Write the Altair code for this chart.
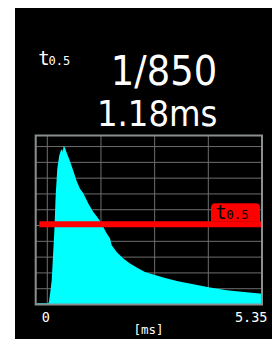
import altair as alt
import pandas as pd

# waveform (time in ms, relative level)
t_ms = [-0.289, -0.244, 0.025, 0.042, 0.080, 0.110, 0.150, 0.174, 0.209, 0.249,
        0.299, 0.341, 0.371, 0.386, 0.404, 0.436, 0.483, 0.566, 0.648, 0.733,
        0.815, 0.897, 1.022, 1.146, 1.271, 1.356, 1.413, 1.463, 1.563, 1.605,
        1.729, 1.894, 2.061, 2.228, 2.435, 2.642, 2.891, 3.225, 3.638, 4.055,
        4.471, 4.969, 5.350]
level = [0.0, 0.08, 0.08, 0.18, 0.91, 1.54, 3.44, 4.58, 6.92, 8.61,
         9.45, 9.77, 9.83, 9.64, 10.02, 9.96, 9.61, 9.07, 8.47, 7.80,
         7.33, 7.04, 6.39, 5.86, 5.44, 5.13, 4.83, 4.58, 4.18, 3.75,
         3.33, 2.91, 2.59, 2.34, 2.06, 1.90, 1.71, 1.49, 1.28, 1.08,
         0.91, 0.78, 0.68]

grid_ms = [0, 1.3375, 2.675, 4.0125]
grid_level = [1, 2, 3, 4, 5, 6, 7, 8, 9, 10]
threshold_level = [5.08]
threshold_from = [-0.2]
threshold_to = [5.35]
tick_ms_left = [0]
tick_text_left = ["0"]
tick_ms_right = [5.35]
tick_text_right = ["5.35"]
header_rate = ["1/850"]
header_time = ["1.18ms"]
label_t = ["t"]
label_sub = ["0.5"]
unit_text = ["[ms]"]

W, H = 226.3, 169
GRID = "#6e6e6e"
FRAME = "#8a9090"
RED = "#ff0000"
CYAN = "#00ffff"
MONO = "DejaVu Sans Mono"
NARROW = "DejaVu Sans Condensed, Roboto Condensed, DejaVu Sans, sans-serif"

xs = alt.Scale(domain=[-0.289, 5.35], nice=False, zero=False)
ys = alt.Scale(domain=[0, 10.7], nice=False, zero=False)

one = pd.DataFrame({"k": [0]})

bg = alt.Chart(one).mark_rect(color="black").encode(
    x=alt.value(-20.7), x2=alt.value(245), y=alt.value(-130), y2=alt.value(215))

gx = alt.Chart(pd.DataFrame({"x": grid_ms})).mark_rule(color=GRID, strokeWidth=1).encode(
    x=alt.X("x:Q", scale=xs, axis=None))
gy = alt.Chart(pd.DataFrame({"y": grid_level})).mark_rule(color=GRID, strokeWidth=1).encode(
    y=alt.Y("y:Q", scale=ys, axis=None))

area = alt.Chart(pd.DataFrame({"t": t_ms, "v": level})).mark_area(
    color=CYAN, opacity=1).encode(
    x=alt.X("t:Q", scale=xs, axis=None),
    y=alt.Y("v:Q", scale=ys, axis=None))

thr = alt.Chart(pd.DataFrame({"x0": threshold_from, "x1": threshold_to, "y": threshold_level})).mark_rule(
    color=RED, strokeWidth=6).encode(
    x=alt.X("x0:Q", scale=xs, axis=None), x2="x1:Q",
    y=alt.Y("y:Q", scale=ys, axis=None))

frame = alt.Chart(one).mark_rect(filled=False, color=FRAME, stroke=FRAME, strokeWidth=2).encode(
    x=alt.value(0), x2=alt.value(W), y=alt.value(0), y2=alt.value(H))

box = alt.Chart(one).mark_rect(color=RED, cornerRadiusTopLeft=4, cornerRadiusTopRight=4).encode(
    x=alt.value(175.3), x2=alt.value(224.3), y=alt.value(67.8), y2=alt.value(86))


def txt(values, font, size, color, x, y, align="left"):
    return alt.Chart(pd.DataFrame({"s": values})).mark_text(
        font=font, fontSize=size, color=color, align=align, baseline="alphabetic").encode(
        text="s:N", x=alt.value(x), y=alt.value(y))


box_t = txt(label_t, MONO, 19, "black", 179.5, 83)
box_sub = txt(label_sub, MONO, 12.5, "black", 190.5, 83)
top_t = txt(label_t, MONO, 19, "white", 2.6, -71)
top_sub = txt(label_sub, MONO, 12, "white", 12.8, -71)
rate = txt(header_rate, NARROW, 41, "white", 128.3, -51, align="center")
tval = txt(header_time, NARROW, 36, "white", 121.5, -10, align="center")
unit = txt(unit_text, MONO, 12.5, "white", 112.8, 198.7, align="center")

tick_l = alt.Chart(pd.DataFrame({"x": tick_ms_left, "s": tick_text_left})).mark_text(
    font=MONO, fontSize=13.5, color="white", align="center", baseline="alphabetic", dx=-1.6).encode(
    x=alt.X("x:Q", scale=xs, axis=None), y=alt.value(186.2), text="s:N")
tick_r = alt.Chart(pd.DataFrame({"x": tick_ms_right, "s": tick_text_right})).mark_text(
    font=MONO, fontSize=13.5, color="white", align="right", baseline="alphabetic", dx=5.5).encode(
    x=alt.X("x:Q", scale=xs, axis=None), y=alt.value(186.2), text="s:N")

chart = alt.layer(
    bg, gx, gy, area, thr, frame, box, box_t, box_sub,
    top_t, top_sub, rate, tval, unit, tick_l, tick_r
).properties(
    width=W, height=H,
    padding={"left": 27.7, "top": 127.5, "right": 10, "bottom": 34},
    autosize=alt.AutoSizeParams(type="none"),
    background="white",
).configure_view(stroke=None)

chart.save("out.html", embed_options={"renderer": "svg", "actions": False})
